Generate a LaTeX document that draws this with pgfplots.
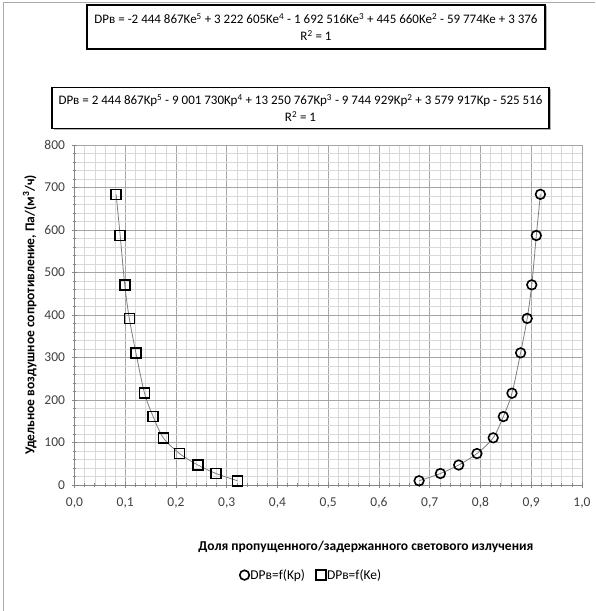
\documentclass[border=0pt]{standalone}
\usepackage{pgfplots}
\pgfplotsset{compat=1.18}
\usepackage{pgfplotstable}
\usepackage{fontspec}
\setmainfont{Carlito}
\usetikzlibrary{shadows}

\definecolor{majgrid}{HTML}{A6A6A6}
\definecolor{mingrid}{HTML}{D9D9D9}
\definecolor{axisgray}{HTML}{868686}
\definecolor{ticktext}{HTML}{404040}
\definecolor{curve}{HTML}{7F7F7F}

% Specific air resistance vs. transmitted fraction Kp
\pgfplotstableread{
Kp     DP
0.918  684
0.910  587
0.901  471
0.892  392
0.879  311
0.862  216
0.845  161
0.825  111
0.793  74
0.757  47
0.721  27
0.679  10
}\dataKp

% Specific air resistance vs. retained fraction Ke
\pgfplotstableread{
Ke     DP
0.082  684
0.090  587
0.099  471
0.108  392
0.121  311
0.138  216
0.155  161
0.175  111
0.207  74
0.243  47
0.279  27
0.321  10
}\dataKe

\begin{document}
\begin{tikzpicture}[x=1pt,y=1pt]
\useasboundingbox (0,0) rectangle (595,611);
% outer chart frame
\draw[axisgray!70, line width=0.8pt] (3.5,0) -- (3.5,609) -- (595,609);

\begin{axis}[
  at={(74.5pt,126pt)}, anchor=south west,
  scale only axis, width=507.5pt, height=340pt,
  xmin=0, xmax=1, ymin=0, ymax=800,
  xtick={0,0.1,0.2,0.3,0.4,0.5,0.6,0.7,0.8,0.9,1.0},
  ytick={0,100,200,300,400,500,600,700,800},
  minor x tick num=4, minor y tick num=4,
  grid=both,
  major grid style={color=majgrid, line width=0.7pt},
  minor grid style={color=mingrid, line width=0.6pt},
  axis lines=left,
  axis line style={-, color=axisgray, line width=0.8pt},
  tick align=center,
  major tick length=6pt, minor tick length=4pt,
  tick style={color=axisgray, line width=0.7pt},
  /pgf/number format/assume math mode=true,
  ticklabel style={font=\fontsize{13.5}{16}\selectfont, text=ticktext},
  x tick label style={yshift=-6pt, /pgf/number format/.cd, fixed, fixed zerofill, precision=1, use comma},
  y tick label style={xshift=-3pt, /pgf/number format/.cd, fixed, precision=0},
  xlabel={Доля пропущенного/задержанного светового излучения},
  xlabel style={font=\bfseries\fontsize{13.5}{16}\selectfont, at={(axis description cs:0.574,-0.182)}, anchor=center},
  ylabel={Удельное воздушное сопротивление, Па/(м\textsuperscript{3}/ч)},
  ylabel style={font=\bfseries\fontsize{13.5}{16}\selectfont, at={(axis description cs:-0.088,0.5)}, anchor=center},
  legend style={at={(axis description cs:0.466,-0.265)}, anchor=center,
    draw=none, fill=none, legend columns=2,
    font=\fontsize{13.5}{16}\selectfont,
    nodes={inner xsep=1pt},
    /tikz/every even column/.append style={column sep=10pt}},
]
% fitted curves through the points
\addplot[curve, line width=0.8pt, smooth, forget plot] table[x=Kp, y=DP] {\dataKp};
\addplot[curve, line width=0.8pt, smooth, forget plot] table[x=Ke, y=DP] {\dataKe};
% measured points
\addplot[only marks, mark=o, mark size=4.8pt, mark options={black, line width=1.6pt}]
  table[x=Kp, y=DP] {\dataKp};
\addplot[only marks, mark=square, mark size=5pt, mark options={black, line width=1.6pt}]
  table[x=Ke, y=DP] {\dataKe};
\legend{DPв=f(Kp), DPв=f(Ke)}
\end{axis}

% trendline equations
\node[draw=black, line width=1.2pt, fill=white, minimum width=458pt, minimum height=44pt,
  inner xsep=4pt, inner ysep=2pt,
  align=center, font=\fontsize{13}{17}\selectfont,
  drop shadow={shadow xshift=1.5pt, shadow yshift=-1.5pt, fill=gray, opacity=0.6}]
  at (316,584)
  {DPв = -2 444 867Ke\textsuperscript{5} + 3 222 605Ke\textsuperscript{4} - 1 692 516Ke\textsuperscript{3} + 445 660Ke\textsuperscript{2} - 59 774Ke + 3 376\\
   R\textsuperscript{2} = 1};
\node[draw=black, line width=1.2pt, fill=white, minimum width=497pt, minimum height=41pt,
  inner xsep=4pt, inner ysep=2pt,
  align=center, font=\fontsize{13}{17}\selectfont,
  drop shadow={shadow xshift=1.5pt, shadow yshift=-1.5pt, fill=gray, opacity=0.6}]
  at (300.5,503)
  {DPв = 2 444 867Kp\textsuperscript{5} - 9 001 730Kp\textsuperscript{4} + 13 250 767Kp\textsuperscript{3} - 9 744 929Kp\textsuperscript{2} + 3 579 917Kp - 525 516\\
   R\textsuperscript{2} = 1};
\end{tikzpicture}
\end{document}
